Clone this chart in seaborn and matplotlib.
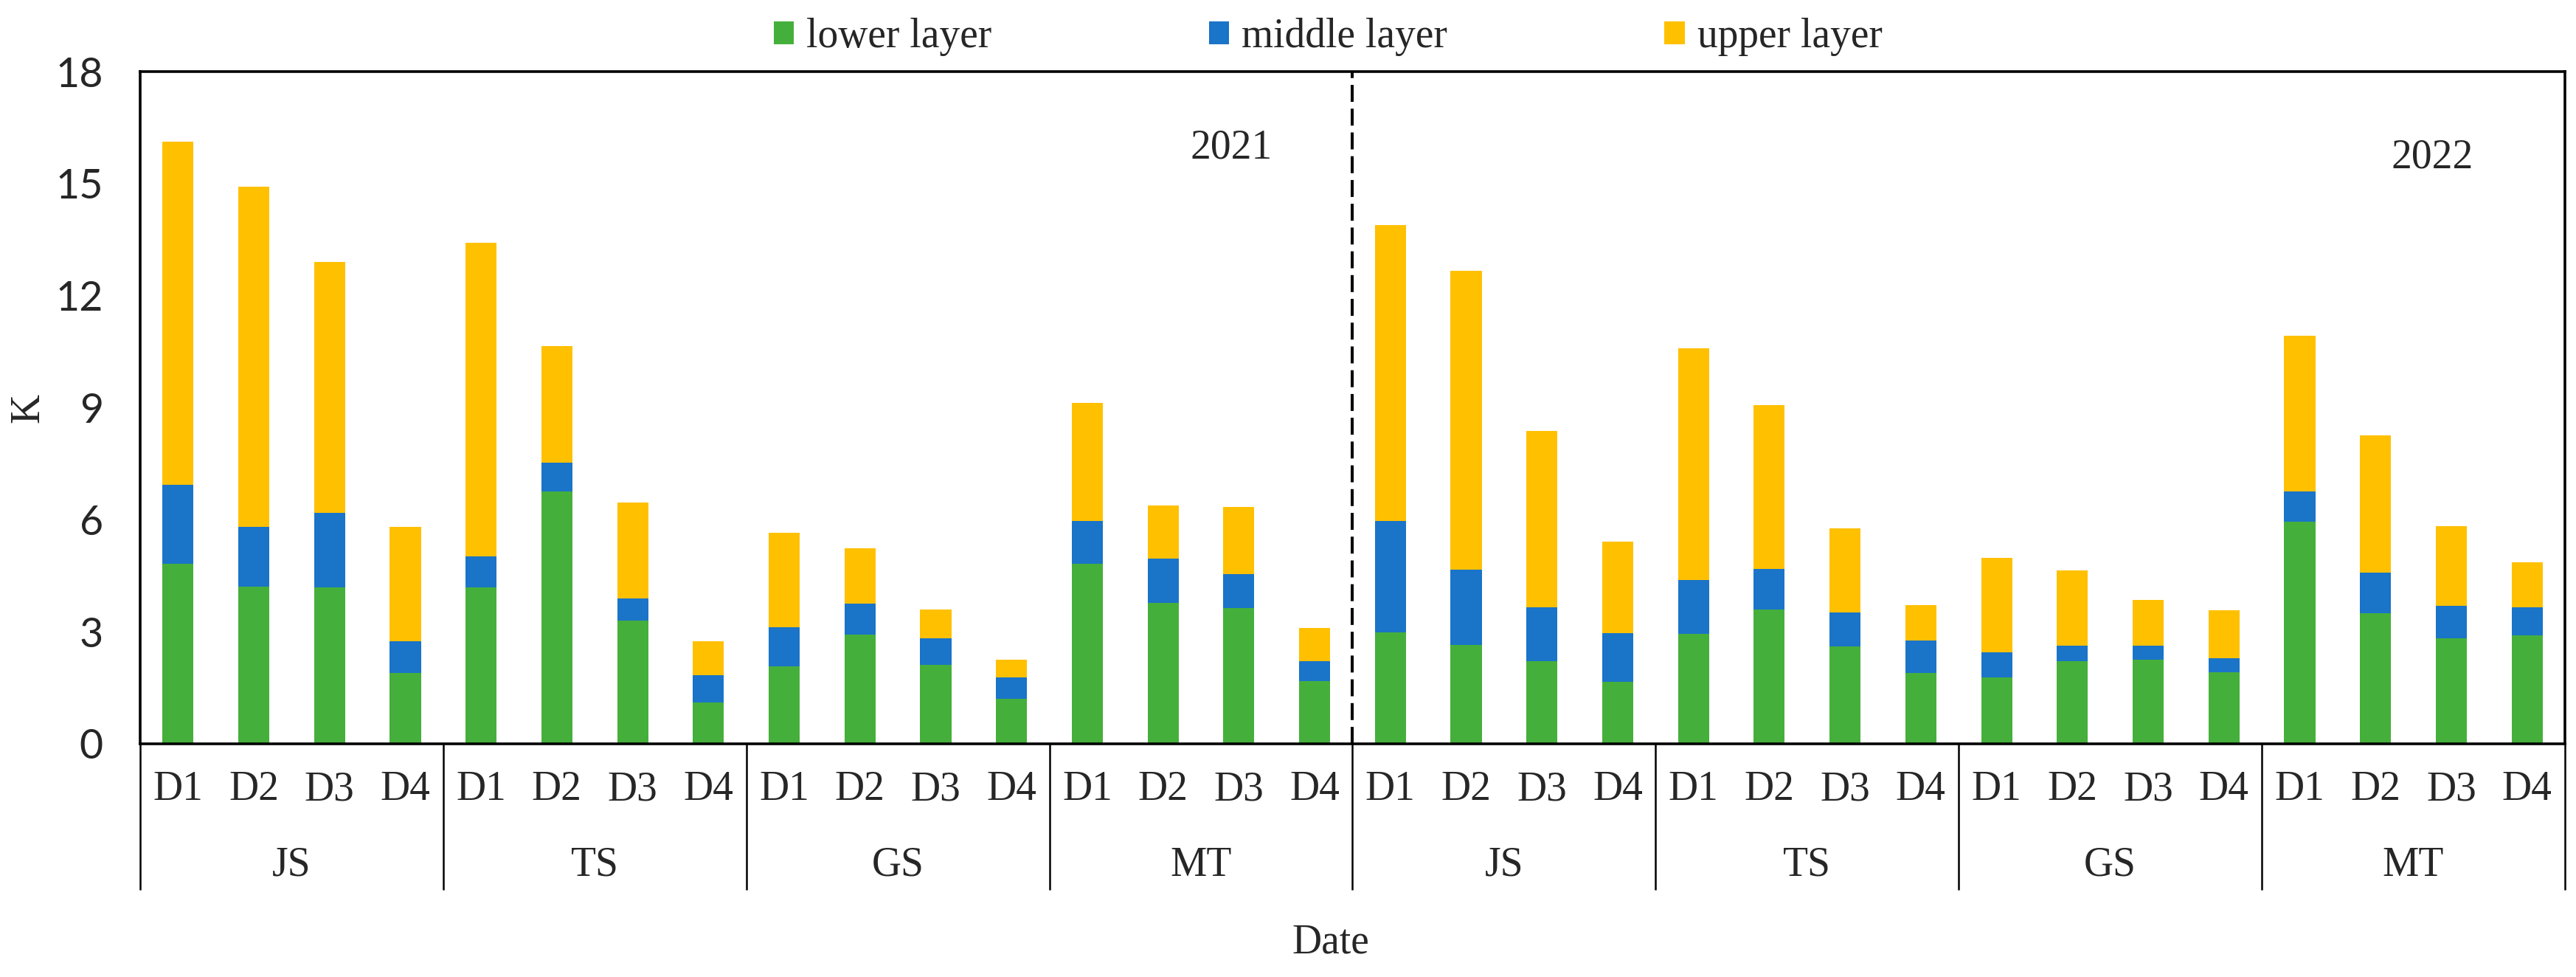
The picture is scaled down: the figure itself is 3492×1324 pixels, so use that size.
import pandas as pd
import seaborn as sns
import matplotlib.pyplot as plt
import matplotlib.transforms as mtransforms
from matplotlib.patches import Patch

# values
years = ['2021', '2022']
sites = ['JS', 'TS', 'GS', 'MT']
dates = ['D1', 'D2', 'D3', 'D4']

lower_2021 = [4.82, 4.21, 4.18, 1.89,  4.18, 6.75, 3.30, 1.11,
              2.08, 2.92, 2.12, 1.20,  4.82, 3.77, 3.63, 1.68]
middle_2021 = [2.11, 1.60, 2.00, 0.85,  0.84, 0.78, 0.60, 0.73,
               1.04, 0.83, 0.70, 0.57,  1.15, 1.19, 0.91, 0.53]
upper_2021 = [9.19, 9.11, 6.72, 3.07,  8.40, 3.12, 2.56, 0.90,
              2.54, 1.48, 0.78, 0.49,  3.16, 1.42, 1.80, 0.89]

lower_2022 = [2.98, 2.65, 2.21, 1.65,  2.94, 3.60, 2.61, 1.89,
              1.77, 2.21, 2.25, 1.92,  5.94, 3.49, 2.82, 2.90]
middle_2022 = [2.99, 2.01, 1.44, 1.31,  1.44, 1.09, 0.91, 0.88,
               0.68, 0.41, 0.37, 0.37,  0.81, 1.09, 0.87, 0.75]
upper_2022 = [7.93, 8.01, 4.73, 2.45,  6.21, 4.38, 2.25, 0.94,
              2.53, 2.03, 1.24, 1.28,  4.18, 3.68, 2.13, 1.21]

layer_names = ['lower layer', 'middle layer', 'upper layer']
layer_colors = ['#45AF3B', '#1A74C8', '#FFC000']

FONT = 'Liberation Serif'
FS = 40


def build_frame():
	rows = []
	lows = [lower_2021, lower_2022]
	mids = [middle_2021, middle_2022]
	ups = [upper_2021, upper_2022]
	for yi, year in enumerate(years):
		k = 0
		for site in sites:
			for d in dates:
				rows.append((year, site, d, year + '-' + site + '-' + d,
					lows[yi][k], mids[yi][k], ups[yi][k]))
				k += 1
	df = pd.DataFrame(rows, columns=['Year', 'Site', 'Date', 'Key',
		'lower', 'middle', 'upper'])
	# stacked heights
	df['top_lower'] = df['lower']
	df['top_middle'] = df['lower'] + df['middle']
	df['top_upper'] = df['top_middle'] + df['upper']
	return df


def main():
	df = build_frame()
	order = list(df['Key'])

	sns.set_theme(style='white')
	plt.rcParams['font.family'] = [FONT, 'DejaVu Serif']

	fig = plt.figure(figsize=(34.92, 13.24), dpi=100)
	ax = fig.add_axes([0.0544, 0.2387, 0.9413, 0.688])

	# draw the stack from the top down so the lower layers sit in front
	for col, color in zip(['top_upper', 'top_middle', 'top_lower'],
			layer_colors[::-1]):
		sns.barplot(data=df, x='Key', y=col, order=order, color=color,
			saturation=1, width=0.41, errorbar=None, linewidth=0, ax=ax)

	ax.set_xlim(-0.5, len(order) - 0.5)
	ax.set_ylim(0, 18)
	ax.set_yticks(range(0, 19, 3))
	ax.set_xticks(range(len(order)))
	ax.set_xticklabels(df['Date'], fontsize=FS, fontfamily=FONT)
	for lab in ax.get_yticklabels():
		lab.set_fontsize(FS)
		lab.set_fontfamily(['Lato', 'DejaVu Sans'])
	ax.tick_params(axis='x', length=0, pad=26)
	ax.tick_params(axis='y', length=0, pad=36)
	ax.set_xlabel('')
	ax.set_ylabel('')

	for sp in ax.spines.values():
		sp.set_visible(True)
		sp.set_color('black')
		sp.set_linewidth(2.6)

	# second tier of the category axis
	trans = mtransforms.blended_transform_factory(ax.transData, ax.transAxes)
	n_sites = len(sites) * len(years)
	for g in range(n_sites + 1):
		xb = g * len(dates) - 0.5
		ax.plot([xb, xb], [0, -0.217], transform=trans, color='black',
			lw=1.8, clip_on=False, solid_capstyle='butt')
	for g in range(n_sites):
		xc = g * len(dates) + (len(dates) - 1) / 2
		ax.text(xc, -0.181, sites[g % len(sites)], transform=trans,
			ha='center', va='center', fontsize=FS, fontfamily=FONT)

	# year divider
	ax.axvline(len(order) / 2 - 0.5, color='black', lw=2.9,
		dashes=(5.7, 2.3))
	ax.text(13.9, 15.95, years[0], ha='center', va='center', fontsize=FS,
		fontfamily=FONT)
	ax.text(29.75, 15.7, years[1], ha='center', va='center', fontsize=FS,
		fontfamily=FONT)

	# axis titles
	ax.text(0.491, -0.296, 'Date', transform=ax.transAxes, ha='center',
		va='center', fontsize=FS, fontfamily=FONT)
	ax.text(-0.046, 0.5, 'K', transform=ax.transAxes, ha='center',
		va='center', rotation=90, fontsize=FS, fontfamily=FONT)

	handles = [Patch(facecolor=c, edgecolor='none') for c in layer_colors]
	fig.legend(handles, layer_names, loc='center',
		bbox_to_anchor=(0.5155, 0.962), ncol=3, frameon=False,
		handlelength=0.5, handleheight=0.5, handletextpad=0.3,
		columnspacing=5.3, prop={'family': FONT, 'size': FS})

	fig.savefig('out.png', dpi=100)


if __name__ == '__main__':
	main()
